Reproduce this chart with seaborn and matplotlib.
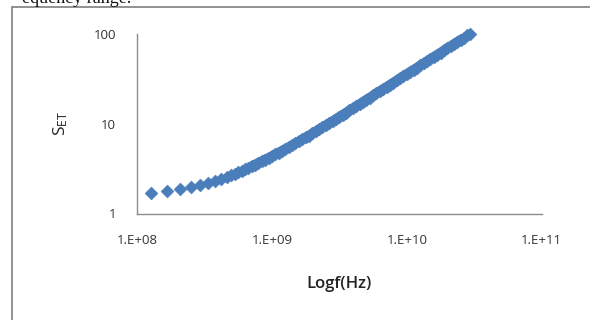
import matplotlib
matplotlib.use("Agg")
import matplotlib.pyplot as plt
import seaborn as sns
import pandas as pd
from matplotlib.patches import Rectangle
from matplotlib.ticker import FixedLocator, NullLocator

# Frequency in GHz
freq_ghz = [
    0.126, 0.168, 0.210, 0.252, 0.294, 0.336, 0.378, 0.420, 0.462,
    0.501, 0.531, 0.562, 0.596, 0.631, 0.668, 0.708, 0.750, 0.794, 0.841,
    0.891, 0.944, 1.000, 1.059, 1.122, 1.189, 1.259, 1.334, 1.413, 1.496,
    1.585, 1.679, 1.778, 1.884, 1.995, 2.113, 2.239, 2.371, 2.512, 2.661,
    2.818, 2.985, 3.162, 3.350, 3.548, 3.758, 3.981, 4.217, 4.467, 4.732,
    5.012, 5.309, 5.623, 5.957, 6.310, 6.683, 7.079, 7.499, 7.943, 8.414,
    8.913, 9.441, 10.00, 10.59, 11.22, 11.89, 12.59, 13.34, 14.13, 14.96,
    15.85, 16.79, 17.78, 18.84, 19.95, 21.13, 22.39, 23.71, 25.12, 26.61,
    28.18, 29.50,
]
s_et = [
    1.68, 1.80, 1.89, 1.99, 2.09, 2.20, 2.31, 2.43, 2.56,
    2.679, 2.777, 2.877, 2.992, 3.108, 3.236, 3.369, 3.512, 3.660, 3.819,
    3.990, 4.169, 4.360, 4.560, 4.775, 5.000, 5.242, 5.495, 5.768, 6.053,
    6.362, 6.683, 7.031, 7.396, 7.789, 8.204, 8.646, 9.120, 9.612, 10.14,
    10.70, 11.30, 11.92, 12.60, 13.30, 14.06, 14.85, 15.69, 16.58, 17.52,
    18.51, 19.55, 20.65, 21.82, 23.06, 24.36, 25.73, 27.19, 28.73, 30.35,
    32.06, 33.88, 35.80, 37.82, 39.95, 42.22, 44.60, 47.13, 49.77, 52.59,
    55.56, 58.71, 62.01, 65.53, 69.23, 73.15, 77.27, 81.64, 86.27, 91.15,
    96.27, 100.6,
]
x_ticks = [1e8, 1e9, 1e10, 1e11]
x_tick_labels = ["1.E+08", "1.E+09", "1.E+10", "1.E+11"]
y_ticks = [1, 10, 100]
y_tick_labels = ["1", "10", "100"]

df = pd.DataFrame({"f": [v * 1e9 for v in freq_ghz], "S": s_et})
dense = df[df["f"] >= 0.7e9]

sns.set_style("white")
plt.rcParams["font.family"] = ["Open Sans", "DejaVu Sans"]

blue = "#4a7ebb"
fig = plt.figure(figsize=(5.9, 3.2), dpi=100)
ax = fig.add_axes([137 / 590, 1 - 213.5 / 320, (541.7 - 137) / 590, (213.5 - 34) / 320])

# the closely packed markers merge into a smooth band
sns.lineplot(data=dense, x="f", y="S", color=blue, linewidth=7.0, ax=ax,
             zorder=2, solid_capstyle="round", sort=False)
sns.scatterplot(data=df, x="f", y="S", marker="D", s=44, color=blue,
                edgecolor=blue, linewidth=0.3, ax=ax, zorder=3, clip_on=False)

ax.set_xscale("log")
ax.set_yscale("log")
ax.set_xlim(1e8, 1e11)
ax.set_ylim(1, 100)
ax.xaxis.set_major_locator(FixedLocator(x_ticks))
ax.xaxis.set_minor_locator(NullLocator())
ax.yaxis.set_major_locator(FixedLocator(y_ticks))
ax.yaxis.set_minor_locator(NullLocator())
ax.set_xticklabels(x_tick_labels)
ax.set_yticklabels(y_tick_labels)

gray = "#8c8c8c"
for side in ["top", "right"]:
    ax.spines[side].set_visible(False)
for side in ["left", "bottom"]:
    ax.spines[side].set_color(gray)
    ax.spines[side].set_linewidth(1.0)
ax.tick_params(axis="both", which="major", direction="out", length=5, width=1.0,
               color=gray, labelsize=9.5, labelcolor="#333333")
ax.tick_params(axis="x", pad=10)
ax.tick_params(axis="y", pad=10)

ax.set_xlabel("Logf(Hz)", fontsize=12, fontweight="semibold", color="#222222", labelpad=21)
ax.set_ylabel(r"$\mathregular{S_{ET}}$", fontsize=12.5, color="#222222", labelpad=17)

# outer frame of the embedded chart
fig.patches.append(Rectangle((12 / 590, -0.1), 1.2, (320 - 7) / 320 + 0.1,
                             transform=fig.transFigure, fill=False,
                             edgecolor="#7f7f7f", linewidth=1.2))
# clipped caption line of the surrounding page
fig.text(22 / 590, 1 - 3 / 320, "equency range.", fontsize=13,
         family=["Liberation Serif", "DejaVu Serif"], va="baseline", color="#111111")

fig.savefig("out.png", dpi=100)
